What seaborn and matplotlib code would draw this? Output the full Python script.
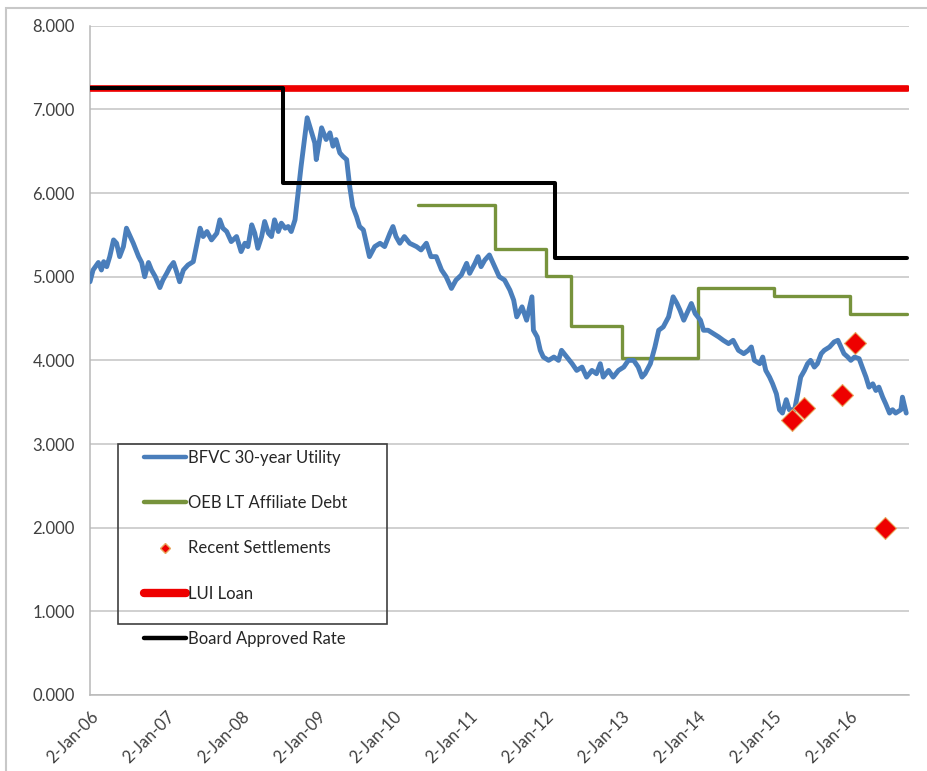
import numpy as np
import pandas as pd
import matplotlib.pyplot as plt
from matplotlib.lines import Line2D
from matplotlib.patches import Rectangle
import seaborn as sns

# BFVC 30-year Utility (decimal year, rate %)
bfvc_year = [2006.00, 2006.04, 2006.11, 2006.15, 2006.18, 2006.22, 2006.26, 2006.31, 2006.35, 2006.39,
             2006.44, 2006.48, 2006.53, 2006.57, 2006.64, 2006.68, 2006.72, 2006.77, 2006.81, 2006.86,
             2006.92, 2006.96, 2007.01, 2007.05, 2007.10, 2007.14, 2007.18, 2007.23, 2007.29, 2007.36,
             2007.40, 2007.45, 2007.49, 2007.54, 2007.60, 2007.67, 2007.71, 2007.75, 2007.80, 2007.86,
             2007.93, 2007.99, 2008.04, 2008.08, 2008.13, 2008.17, 2008.21, 2008.26, 2008.30, 2008.35,
             2008.39, 2008.43, 2008.48, 2008.52, 2008.57, 2008.61, 2008.65, 2008.70, 2008.74, 2008.78,
             2008.83, 2008.86, 2008.92, 2008.96, 2008.98, 2009.05, 2009.11, 2009.16, 2009.20, 2009.24,
             2009.29, 2009.33, 2009.38, 2009.42, 2009.46, 2009.51, 2009.55, 2009.60, 2009.64, 2009.68,
             2009.75, 2009.82, 2009.88, 2009.95, 2009.99, 2010.03, 2010.08, 2010.14, 2010.21, 2010.30,
             2010.36, 2010.43, 2010.49, 2010.56, 2010.63, 2010.69, 2010.76, 2010.82, 2010.89, 2010.96,
             2011.00, 2011.07, 2011.11, 2011.15, 2011.20, 2011.26, 2011.31, 2011.35, 2011.39, 2011.46,
             2011.53, 2011.58, 2011.62, 2011.69, 2011.75, 2011.82, 2011.84, 2011.89, 2011.93, 2011.97,
             2012.04, 2012.11, 2012.17, 2012.21, 2012.28, 2012.35, 2012.41, 2012.48, 2012.54, 2012.61,
             2012.67, 2012.72, 2012.76, 2012.83, 2012.89, 2012.96, 2013.03, 2013.09, 2013.16, 2013.22,
             2013.27, 2013.31, 2013.38, 2013.44, 2013.49, 2013.55, 2013.62, 2013.68, 2013.73, 2013.77,
             2013.82, 2013.88, 2013.92, 2013.97, 2014.04, 2014.08, 2014.14, 2014.21, 2014.28, 2014.34,
             2014.41, 2014.47, 2014.54, 2014.61, 2014.67, 2014.71, 2014.75, 2014.82, 2014.86, 2014.90,
             2014.95, 2014.99, 2015.04, 2015.08, 2015.12, 2015.17, 2015.21, 2015.28, 2015.32, 2015.36,
             2015.41, 2015.45, 2015.49, 2015.54, 2015.58, 2015.63, 2015.67, 2015.74, 2015.80, 2015.85,
             2015.89, 2015.93, 2015.98, 2016.02, 2016.07, 2016.13, 2016.17, 2016.22, 2016.26, 2016.31,
             2016.35, 2016.39, 2016.44, 2016.48, 2016.53, 2016.57, 2016.61, 2016.68, 2016.70, 2016.75]
bfvc_rate = [4.94, 5.08, 5.17, 5.08, 5.18, 5.12, 5.24, 5.44, 5.40, 5.24,
             5.36, 5.58, 5.48, 5.40, 5.24, 5.17, 5.00, 5.17, 5.08, 5.00,
             4.87, 4.96, 5.04, 5.11, 5.17, 5.06, 4.94, 5.08, 5.14, 5.18,
             5.36, 5.58, 5.48, 5.54, 5.44, 5.52, 5.68, 5.58, 5.54, 5.42,
             5.48, 5.30, 5.40, 5.36, 5.62, 5.52, 5.34, 5.48, 5.66, 5.52,
             5.48, 5.68, 5.54, 5.64, 5.58, 5.60, 5.54, 5.68, 6.00, 6.32,
             6.68, 6.90, 6.72, 6.60, 6.40, 6.78, 6.64, 6.72, 6.56, 6.64,
             6.48, 6.44, 6.40, 6.08, 5.84, 5.72, 5.60, 5.56, 5.40, 5.24,
             5.36, 5.40, 5.36, 5.52, 5.60, 5.48, 5.40, 5.48, 5.40, 5.36,
             5.32, 5.40, 5.24, 5.24, 5.08, 5.00, 4.86, 4.96, 5.02, 5.16,
             5.04, 5.16, 5.24, 5.12, 5.20, 5.26, 5.16, 5.08, 5.00, 4.96,
             4.84, 4.72, 4.52, 4.64, 4.48, 4.76, 4.36, 4.28, 4.12, 4.04,
             4.00, 4.04, 4.00, 4.12, 4.04, 3.96, 3.88, 3.92, 3.80, 3.88,
             3.84, 3.96, 3.80, 3.88, 3.80, 3.88, 3.92, 4.00, 4.00, 3.92,
             3.80, 3.84, 3.96, 4.16, 4.36, 4.40, 4.52, 4.76, 4.68, 4.60,
             4.48, 4.60, 4.68, 4.56, 4.48, 4.36, 4.36, 4.32, 4.28, 4.24,
             4.20, 4.24, 4.12, 4.08, 4.12, 4.16, 4.00, 3.96, 4.04, 3.88,
             3.80, 3.72, 3.60, 3.41, 3.37, 3.53, 3.41, 3.41, 3.60, 3.80,
             3.88, 3.96, 4.00, 3.92, 3.96, 4.08, 4.12, 4.16, 4.22, 4.24,
             4.16, 4.08, 4.04, 4.00, 4.04, 4.02, 3.92, 3.80, 3.68, 3.72,
             3.64, 3.68, 3.56, 3.48, 3.37, 3.41, 3.37, 3.41, 3.56, 3.37]

# OEB LT Affiliate Debt (step changes)
oeb_year = [2010.32, 2011.34, 2012.00, 2012.34, 2013.00, 2014.01, 2015.01, 2016.01, 2016.76]
oeb_rate = [5.86, 5.33, 5.01, 4.41, 4.03, 4.87, 4.77, 4.55, 4.55]

# Board Approved Rate (step changes)
board_year = [2006.00, 2008.54, 2012.13, 2016.76]
board_rate = [7.25, 6.12, 5.22, 5.22]

# LUI Loan
lui_year = [2006.00, 2016.76]
lui_rate = [7.25, 7.25]

# Recent Settlements
settle_year = [2015.24, 2015.41, 2015.91, 2016.08, 2016.47]
settle_rate = [3.29, 3.43, 3.59, 4.21, 2.00]

years = list(range(2006, 2017))
year_labels = ["2-Jan-%02d" % (y % 100) for y in years]

BLUE = "#4a7ebb"
GREEN = "#77933c"
RED = "#ee0000"

sns.set_style("white")
plt.rcParams['font.family'] = ['Lato', 'DejaVu Sans']

fig = plt.figure(figsize=(9.28, 7.71), dpi=100)
ax = fig.add_axes([0.097, 0.0986, 0.882, 0.868])

sns.lineplot(x=oeb_year, y=oeb_rate, ax=ax, color=GREEN, lw=2.4,
             drawstyle="steps-post", zorder=2)
sns.lineplot(x=bfvc_year, y=bfvc_rate, ax=ax, color=BLUE, lw=3.5, zorder=3)
sns.lineplot(x=lui_year, y=lui_rate, ax=ax, color=RED, lw=4.8, zorder=4)
sns.lineplot(x=board_year, y=board_rate, ax=ax, color="black", lw=2.9,
             drawstyle="steps-post", zorder=5)
sns.scatterplot(x=settle_year, y=settle_rate, ax=ax, marker="D", s=125,
                color=RED, edgecolor="#e8a860", linewidth=0.8, zorder=6)

ax.set_xlim(2006, 2016.78)
ax.set_ylim(0, 8)
ax.set_yticks(np.arange(0, 9, 1))
ax.set_yticklabels(["%.3f" % v for v in range(9)])
ax.set_xticks(years)
ax.set_xticklabels(year_labels, rotation=45, ha="right", rotation_mode="anchor")
ax.set_xlabel("")
ax.set_ylabel("")

ax.yaxis.grid(True, color="#c4c4c4", lw=1.1)
ax.set_axisbelow(True)
for s in ["top", "right"]:
    ax.spines[s].set_visible(False)
for s in ["left", "bottom"]:
    ax.spines[s].set_color("#b8b8b8")
    ax.spines[s].set_linewidth(1.1)
ax.tick_params(axis="both", labelsize=12, colors="#b8b8b8", labelcolor="#404040",
               length=5, width=1.1, direction="out")
ax.tick_params(axis="y", pad=6)
ax.tick_params(axis="x", pad=5)

# legend with the odd box that stops above the last entry
handles = [
    Line2D([], [], color=BLUE, lw=3.2),
    Line2D([], [], color=GREEN, lw=3.2),
    Line2D([], [], color=RED, marker="D", ms=5, lw=0, markeredgecolor="#e8a860"),
    Line2D([], [], color=RED, lw=6, solid_capstyle="round"),
    Line2D([], [], color="black", lw=3.2),
]
labels = ["BFVC 30-year Utility", "OEB LT Affiliate Debt", "Recent Settlements",
          "LUI Loan", "Board Approved Rate"]
ax.legend(handles, labels, loc="upper left", bbox_to_anchor=(0.066, 0.366),
          frameon=False, fontsize=12, labelspacing=1.75, handlelength=2.5,
          handletextpad=0.15, borderpad=0, borderaxespad=0, labelcolor="#262626")
ax.add_patch(Rectangle((0.034, 0.106), 0.329, 0.269, transform=ax.transAxes,
                       fill=False, ec="#404040", lw=1.2, zorder=7))

# outer chart frame
fig.patches.append(Rectangle((6 / 928, -0.02), 1.0, 1.02 - 8 / 771,
                             transform=fig.transFigure, fill=False,
                             ec="#c8c8c8", lw=1.5))

fig.savefig("out.png", dpi=100)
